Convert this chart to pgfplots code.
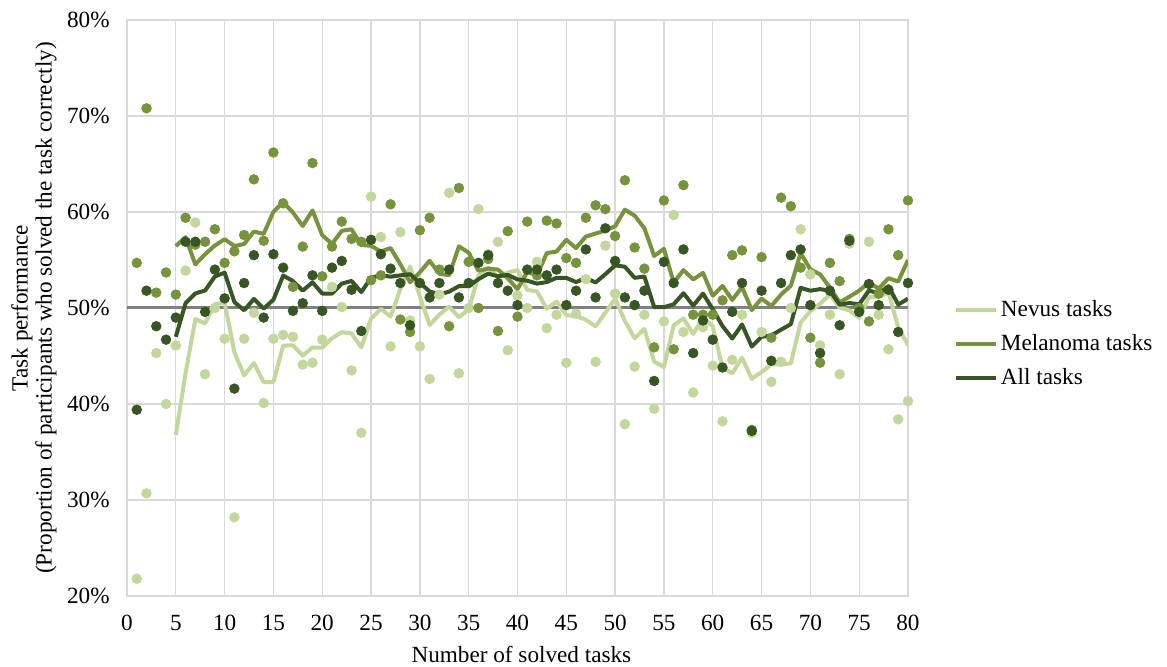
\documentclass[border=0pt]{standalone}
\usepackage{fontspec}
\setmainfont{Liberation Serif}
\usepackage{pgfplots}
\usepackage{pgfplotstable}
\pgfplotsset{compat=1.18}
\definecolor{nev}{HTML}{C3D69B}
\definecolor{mel}{HTML}{77933C}
\definecolor{alls}{HTML}{375623}
\definecolor{gridc}{HTML}{D9D9D9}
\definecolor{refc}{HTML}{808080}

\pgfplotstableread{
x N M A
1 21.8 54.7 39.4
2 30.7 70.8 51.8
3 45.3 51.6 48.1
4 40.0 53.7 46.7
5 46.1 51.4 49.0
6 53.9 59.4 56.9
7 58.9 56.6 56.9
8 43.1 56.9 49.6
9 50.0 58.2 54.0
10 46.8 54.7 51.0
11 28.2 55.9 41.6
12 46.8 57.6 52.6
13 49.5 63.4 55.5
14 40.1 57.0 49.0
15 46.8 66.2 55.6
16 47.2 60.9 54.2
17 47.0 52.2 49.7
18 44.1 56.4 50.5
19 44.3 65.1 53.4
20 46.7 53.3 49.7
21 52.2 56.4 54.2
22 50.1 59.0 54.9
23 43.5 57.2 51.9
24 37.0 56.9 47.6
25 61.6 52.9 57.1
26 57.4 53.4 55.6
27 46.0 60.8 54.1
28 57.9 48.8 52.6
29 48.7 47.5 48.2
30 46.0 58.1 52.6
31 42.6 59.4 51.1
32 51.4 54.0 52.6
33 62.0 48.1 54.0
34 43.2 62.5 51.1
35 50.0 54.8 52.6
36 60.3 50.0 54.7
37 55.6 55.1 55.5
38 56.9 47.6 52.6
39 45.6 58.0 51.8
40 51.3 49.1 50.3
41 50.0 59.0 54.0
42 54.8 53.4 54.0
43 47.9 59.1 53.4
44 49.3 58.8 54.0
45 44.3 55.2 50.3
46 49.4 54.7 51.8
47 53.0 59.4 56.1
48 44.4 60.7 51.1
49 56.5 60.3 58.3
50 51.5 57.5 54.9
51 37.9 63.3 51.1
52 43.9 56.3 50.3
53 49.3 54.1 51.8
54 39.5 45.9 42.4
55 48.6 61.2 54.8
56 59.7 45.7 52.6
57 47.5 62.8 56.1
58 41.2 49.3 45.3
59 48.0 49.3 48.7
60 44.0 49.3 46.7
61 38.2 50.8 43.8
62 44.6 55.5 49.6
63 49.3 56.0 52.6
64 37.0 37.3 37.2
65 47.5 55.3 51.8
66 42.3 46.9 44.5
67 44.4 61.5 52.6
68 50.0 60.6 55.5
69 58.2 54.2 56.1
70 53.5 46.9 50.3
71 46.1 44.3 45.3
72 49.3 54.7 51.8
73 43.1 52.8 48.2
74 56.7 57.2 57.0
75 49.6 50.0 49.6
76 56.9 48.6 52.5
77 49.3 51.5 50.3
78 45.7 58.2 51.9
79 38.4 55.5 47.5
80 40.3 61.2 52.6
}\pts

\pgfplotstableread{
x N M A
5 36.78 56.44 47.00
6 43.20 57.38 50.50
7 48.84 54.54 51.52
8 48.40 55.60 51.82
9 50.40 56.50 53.28
10 50.54 57.16 53.68
11 45.40 56.46 50.62
12 42.98 56.66 49.76
13 44.26 57.96 50.94
14 42.28 57.72 49.94
15 42.28 60.02 50.86
16 46.08 61.02 53.38
17 46.12 59.94 52.80
18 45.04 58.54 51.80
19 45.88 60.16 52.68
20 45.86 57.58 51.50
21 46.86 56.68 51.50
22 47.48 58.04 52.54
23 47.36 58.20 52.82
24 45.90 56.56 51.66
25 48.88 56.48 53.14
26 49.92 55.88 53.42
27 49.10 56.24 53.26
28 51.98 54.56 53.40
29 54.32 52.68 53.52
30 51.20 53.72 52.62
31 48.24 54.92 51.72
32 49.32 53.56 51.42
33 50.14 53.42 51.70
34 49.04 56.42 52.28
35 49.84 55.76 52.28
36 53.38 53.88 53.00
37 54.22 54.10 53.58
38 53.20 54.00 53.30
39 53.68 53.10 53.44
40 53.94 51.96 52.98
41 51.88 53.76 52.84
42 51.72 53.42 52.54
43 49.92 55.72 52.70
44 50.66 55.88 53.14
45 49.26 57.10 53.14
46 49.14 56.24 52.70
47 48.78 57.44 53.12
48 48.08 57.76 52.66
49 49.52 58.06 53.52
50 50.96 58.52 54.44
51 48.66 60.24 54.30
52 46.84 59.62 53.14
53 47.82 58.30 53.28
54 44.42 55.42 50.10
55 43.84 56.16 50.08
56 48.20 52.64 50.38
57 48.92 53.94 51.54
58 47.30 52.98 50.24
59 49.00 53.66 51.50
60 48.08 51.28 49.88
61 43.78 52.30 48.12
62 43.20 50.84 46.82
63 44.82 52.18 48.28
64 42.62 49.78 45.98
65 43.32 50.98 47.00
66 44.14 50.20 47.14
67 44.10 51.40 47.74
68 44.24 52.32 48.32
69 48.48 55.70 52.10
70 49.68 54.02 51.80
71 50.44 53.50 51.96
72 51.42 52.14 51.80
73 50.04 50.58 50.34
74 49.74 51.18 50.52
75 48.96 51.80 50.38
76 51.12 52.66 51.82
77 51.12 52.02 51.52
78 51.64 53.10 52.26
79 47.98 52.76 50.36
80 46.12 55.00 50.96
}\mavg

\begin{document}
\begin{tikzpicture}
\useasboundingbox (-63.5pt,-35.5pt) rectangle (520pt,298pt);
\begin{axis}[
  scale only axis,
  width=390.5pt, height=288pt,
  xmin=0, xmax=80, ymin=20, ymax=80,
  xtick={0,5,...,80},
  xticklabels={0,5,10,15,20,25,30,35,40,45,50,55,60,65,70,75,80},
  ytick={20,30,40,50,60,70,80},
  yticklabels={20\%,30\%,40\%,50\%,60\%,70\%,80\%},
  major tick length=0pt,
  grid=major,
  grid style={gridc, line width=0.65pt},
  axis line style={gridc, line width=0.65pt},
  tick label style={font=\fontsize{11.6}{13}\selectfont, text=black},
  yticklabel style={inner sep=0pt, anchor=east, xshift=-8.5pt},
  xticklabel style={inner sep=0pt, anchor=north, yshift=-9.5pt},
  xlabel={Number of solved tasks},
  xlabel style={at={(axis description cs:0.505,-0.1163)}, anchor=base, inner sep=0pt, font=\fontsize{11.6}{13}\selectfont},
  ylabel={Task performance\\(Proportion of participants who solved the task correctly)},
  ylabel style={at={(axis description cs:-0.119,0.5)}, anchor=center, rotate=0, align=center, inner sep=0pt, font=\fontsize{11.6}{12}\selectfont},
  legend cell align=left,
  legend style={at={(axis description cs:1.0589,0.4375)}, anchor=west, draw=none, fill=none,
    inner sep=0pt, outer sep=0pt, font=\fontsize{11.6}{13}\selectfont, row sep=4.5pt,
    nodes={inner sep=1.5pt}},
  legend image code/.code={\draw[#1] (0pt,0pt) -- (20pt,0pt);},
]
\addplot[refc, line width=1.5pt, forget plot] coordinates {(0,50) (80,50)};
\addplot[only marks, mark=*, mark size=2.4pt, color=nev, forget plot] table[x=x, y=N] {\pts};
\addplot[only marks, mark=*, mark size=2.4pt, color=mel, forget plot] table[x=x, y=M] {\pts};
\addplot[only marks, mark=*, mark size=2.4pt, color=alls, forget plot] table[x=x, y=A] {\pts};
\addplot[nev, line width=2pt, line join=round, no marks] table[x=x, y=N] {\mavg};
\addlegendentry{Nevus tasks}
\addplot[mel, line width=2pt, line join=round, no marks] table[x=x, y=M] {\mavg};
\addlegendentry{Melanoma tasks}
\addplot[alls, line width=2pt, line join=round, no marks] table[x=x, y=A] {\mavg};
\addlegendentry{All tasks}
\end{axis}
\end{tikzpicture}
\end{document}
